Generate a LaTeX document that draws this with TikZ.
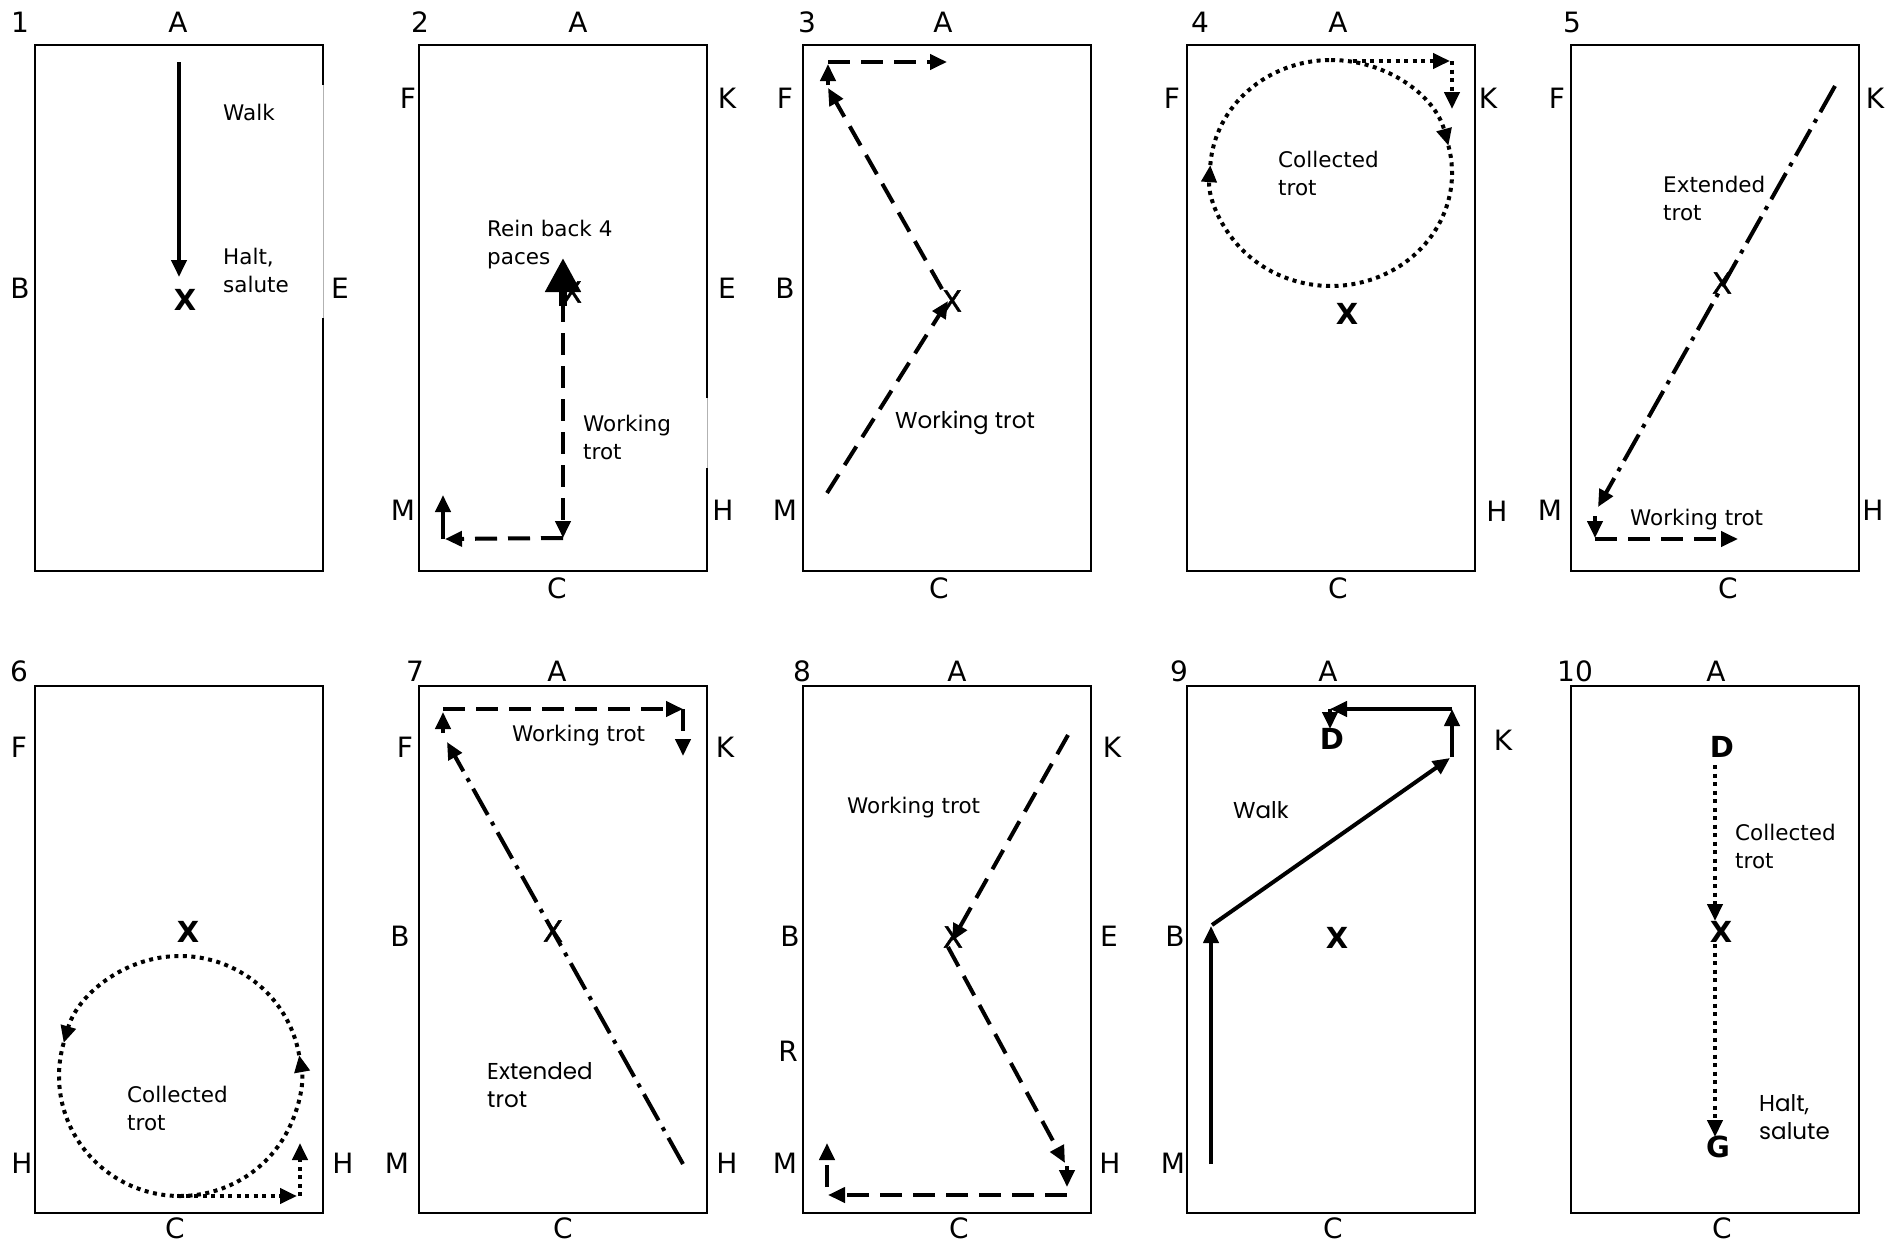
\documentclass[tikz,border=0pt]{standalone}
\usepackage{fontspec}
\setmainfont{DejaVu Sans}
\newfontfamily\geo{Poppins}
\newfontfamily\semix[FakeBold=1.5]{DejaVu Sans}
\usetikzlibrary{arrows.meta}
\begin{document}
\begin{tikzpicture}[x=1pt,y=-1pt,
  ring/.style={line width=2.5pt, line join=miter},
  faint/.style={line width=1pt, black!30},
  lbl/.style={font=\fontsize{28}{32}\selectfont, inner sep=0pt},
  bx/.style={font=\bfseries\fontsize{29}{32}\selectfont, inner sep=0pt},
  nx/.style={font=\semix\fontsize{29}{32}\selectfont, inner sep=0pt},
  txt/.style={font=\fontsize{21.5}{28}\selectfont, inner sep=0pt, align=left, anchor=west},
  gtxt/.style={font=\geo\fontsize{23}{28}\selectfont, inner sep=0pt, align=left, anchor=west},
  mv/.style={line width=4pt},
  dsh/.style={mv, dash pattern=on 22pt off 11pt},
  dtt/.style={mv, dash pattern=on 4pt off 4.5pt},
  ddot/.style={mv, dash pattern=on 30pt off 8pt on 4pt off 8pt},
  tip/.style={-{Triangle[length=17pt,width=15pt]}},
]
\useasboundingbox (0,0) rectangle (1900,1245);

% ---------------- Panel 1
\draw[ring] (323,85) -- (323,45) -- (35,45) -- (35,571) -- (323,571) -- (323,318);
\draw[faint] (323,85) -- (323,318);
\node[lbl] (p1n) at (20,22) {1};
\node[lbl] (p1A) at (178,22) {A};
\node[lbl] (p1B) at (20,288) {B};
\node[lbl] (p1E) at (340,288) {E};
\node[bx] (p1X) at (185,300) {X};
\node[txt] (p1t1) at (223,112) {Walk};
\node[txt] (p1t2) at (223,270) {Halt,\\salute};
\coordinate (p1a) at (179,62);
\coordinate (p1b) at (179,277);
\draw[mv, tip] (p1a) -- (p1b);

% ---------------- Panel 2
\draw[ring] (707,398) -- (707,45) -- (419,45) -- (419,571) -- (707,571) -- (707,468);
\draw[faint] (707,398) -- (707,468);
\node[lbl] (p2n) at (420,22) {2};
\node[lbl] (p2A) at (578,22) {A};
\node[lbl] (p2F) at (408,98) {F};
\node[lbl] (p2K) at (727,98) {K};
\node[lbl] (p2E) at (727,288) {E};
\node[lbl] (p2M) at (403,510) {M};
\node[lbl] (p2H) at (723,510) {H};
\node[lbl] (p2C) at (557,588) {C};
\node[nx] (p2X) at (572,292) {X};
\node[txt] (p2t1) at (487,245) {Rein back 4\\paces};
\node[txt] (p2t2) at (583,437) {Working\\trot};
\coordinate (p2a) at (563,300);
\coordinate (p2b) at (563,538);
\coordinate (p2c) at (445,539);
\coordinate (p2d) at (443,539);
\coordinate (p2e) at (443,495);
\coordinate (p2f) at (563,306);
\coordinate (p2g) at (563,258);
\draw[dsh, tip] (p2a) -- (p2b);
\draw[dsh, tip] (p2b) -- (p2c);
\draw[mv, tip] (p2d) -- (p2e);
\draw[line width=8pt, -{Triangle[length=34pt,width=34pt]}] (p2f) -- (p2g);

% ---------------- Panel 3
\draw[ring] (803,45) rectangle (1091,571);
\node[lbl] (p3n) at (807,22) {3};
\node[lbl] (p3A) at (943,22) {A};
\node[lbl] (p3F) at (785,98) {F};
\node[lbl] (p3B) at (785,288) {B};
\node[lbl] (p3M) at (785,510) {M};
\node[lbl] (p3C) at (939,588) {C};
\node[nx] (p3X) at (952,301) {X};
\node[gtxt] (p3t) at (895,423) {Working trot};
\coordinate (p3a) at (827,493);
\coordinate (p3b) at (948,301);
\coordinate (p3c) at (942,289);
\coordinate (p3d) at (828,88);
\coordinate (p3e) at (828,85);
\coordinate (p3f) at (828,64);
\coordinate (p3g) at (828,62);
\coordinate (p3h) at (947,62);
\draw[dsh, tip] (p3a) -- (p3b);
\draw[dsh, tip] (p3c) -- (p3d);
\draw[mv, tip] (p3e) -- (p3f);
\draw[dsh, tip] (p3g) -- (p3h);

% ---------------- Panel 4
\draw[ring] (1187,45) rectangle (1475,571);
\node[lbl] (p4n) at (1200,22) {4};
\node[lbl] (p4A) at (1338,22) {A};
\node[lbl] (p4F) at (1172,98) {F};
\node[lbl] (p4K) at (1488,98) {K};
\node[lbl] (p4H) at (1497,511) {H};
\node[lbl] (p4C) at (1338,588) {C};
\node[bx] (p4X) at (1347,314) {X};
\node[txt] (p4t) at (1278,173) {Collected\\trot};
\coordinate (c4) at (1331,173);
\draw[dtt, tip] (c4) ++(-90:121 and 113) arc[start angle=-90, end angle=-14, x radius=121, y radius=113];
\draw[dtt, tip] (c4) ++(-14:121 and 113) arc[start angle=-14, end angle=184, x radius=121, y radius=113];
\draw[dtt] (c4) ++(184:121 and 113) arc[start angle=184, end angle=270, x radius=121, y radius=113];
\coordinate (p4a) at (1353,61);
\coordinate (p4b) at (1450,61);
\coordinate (p4c) at (1452,61);
\coordinate (p4d) at (1452,109);
\draw[dtt, tip] (p4a) -- (p4b);
\draw[dtt, tip] (p4c) -- (p4d);

% ---------------- Panel 5
\draw[ring] (1571,45) rectangle (1859,571);
\node[lbl] (p5n) at (1572,22) {5};
\node[lbl] (p5F) at (1557,98) {F};
\node[lbl] (p5K) at (1875,98) {K};
\node[lbl] (p5M) at (1550,510) {M};
\node[lbl] (p5H) at (1873,510) {H};
\node[lbl] (p5C) at (1728,588) {C};
\node[nx] (p5X) at (1722,283) {X};
\node[txt] (p5t1) at (1663,198) {Extended\\trot};
\node[txt] (p5t2) at (1630,520) {Working trot};
\coordinate (p5a) at (1835,86);
\coordinate (p5b) at (1598,507);
\coordinate (p5c) at (1595,516);
\coordinate (p5d) at (1595,538);
\coordinate (p5e) at (1595,539);
\coordinate (p5f) at (1738,539);
\draw[ddot, tip] (p5a) -- (p5b);
\draw[mv, tip] (p5c) -- (p5d);
\draw[dsh, tip] (p5e) -- (p5f);

% ---------------- Panel 6
\draw[ring] (35,686) rectangle (323,1213);
\node[lbl] (p6n) at (19,671) {6};
\node[lbl] (p6F) at (19,747) {F};
\node[lbl] (p6H) at (22,1163) {H};
\node[lbl] (p6H2) at (343,1163) {H};
\node[lbl] (p6C) at (175,1228) {C};
\node[bx] (p6X) at (188,932) {X};
\node[txt] (p6t) at (127,1108) {Collected\\trot};
\coordinate (c6) at (180,1076);
\draw[dtt, tip] (c6) ++(90:121 and 120) arc[start angle=450, end angle=350, x radius=121, y radius=120];
\draw[dtt, tip] (c6) ++(350:121 and 120) arc[start angle=350, end angle=196, x radius=121, y radius=120];
\draw[dtt] (c6) ++(196:121 and 120) arc[start angle=196, end angle=90, x radius=121, y radius=120];
\coordinate (p6a) at (177,1196);
\coordinate (p6b) at (297,1196);
\coordinate (p6c) at (300,1196);
\coordinate (p6d) at (300,1143);
\draw[dtt, tip] (p6a) -- (p6b);
\draw[dtt, tip] (p6c) -- (p6d);

% ---------------- Panel 7
\draw[ring] (419,686) rectangle (707,1213);
\node[lbl] (p7n) at (415,671) {7};
\node[lbl] (p7A) at (557,671) {A};
\node[lbl] (p7F) at (405,747) {F};
\node[lbl] (p7K) at (725,747) {K};
\node[lbl] (p7B) at (400,936) {B};
\node[lbl] (p7M) at (397,1163) {M};
\node[lbl] (p7H) at (727,1163) {H};
\node[lbl] (p7C) at (563,1228) {C};
\node[nx] (p7X) at (553,931) {X};
\node[txt] (p7t1) at (512,736) {Working trot};
\node[gtxt] (p7t2) at (487,1085) {Extended\\trot};
\coordinate (p7a) at (683,1164);
\coordinate (p7b) at (447,742);
\coordinate (p7c) at (443,733);
\coordinate (p7d) at (443,712);
\coordinate (p7e) at (443,709);
\coordinate (p7f) at (683,709);
\coordinate (p7g) at (683,709);
\coordinate (p7h) at (683,756);
\draw[ddot, tip] (p7a) -- (p7b);
\draw[mv, tip] (p7c) -- (p7d);
\draw[dsh, tip] (p7e) -- (p7f);
\draw[dsh, tip] (p7g) -- (p7h);

% ---------------- Panel 8
\draw[ring] (803,686) rectangle (1091,1213);
\node[lbl] (p8n) at (802,671) {8};
\node[lbl] (p8A) at (957,671) {A};
\node[lbl] (p8K) at (1112,747) {K};
\node[lbl] (p8B) at (790,936) {B};
\node[lbl] (p8E) at (1109,936) {E};
\node[lbl] (p8R) at (788,1051) {R};
\node[lbl] (p8M) at (785,1163) {M};
\node[lbl] (p8H) at (1110,1163) {H};
\node[lbl] (p8C) at (959,1228) {C};
\node[nx] (p8X) at (953,937) {X};
\node[txt] (p8t) at (847,808) {Working trot};
\coordinate (p8a) at (1068,735);
\coordinate (p8b) at (952,941);
\coordinate (p8c) at (948,947);
\coordinate (p8d) at (1065,1163);
\coordinate (p8e) at (1067,1166);
\coordinate (p8f) at (1067,1187);
\coordinate (p8g) at (1067,1195);
\coordinate (p8h) at (828,1195);
\coordinate (p8i) at (827,1187);
\coordinate (p8j) at (827,1143);
\draw[dsh, tip] (p8a) -- (p8b);
\draw[dsh, tip] (p8c) -- (p8d);
\draw[mv, tip] (p8e) -- (p8f);
\draw[dsh, tip] (p8g) -- (p8h);
\draw[dsh, tip] (p8i) -- (p8j);

% ---------------- Panel 9
\draw[ring] (1187,686) rectangle (1475,1213);
\node[lbl] (p9n) at (1179,671) {9};
\node[lbl] (p9A) at (1328,671) {A};
\node[lbl] (p9K) at (1503,740) {K};
\node[lbl] (p9B) at (1175,936) {B};
\node[lbl] (p9M) at (1173,1163) {M};
\node[lbl] (p9C) at (1333,1228) {C};
\node[bx] (p9D) at (1332,739) {D};
\node[bx] (p9X) at (1337,938) {X};
\node[gtxt] (p9t) at (1233,810) {Walk};
\coordinate (p9a) at (1211,1164);
\coordinate (p9b) at (1211,926);
\coordinate (p9c) at (1212,925);
\coordinate (p9d) at (1450,758);
\coordinate (p9e) at (1452,757);
\coordinate (p9f) at (1452,709);
\coordinate (p9g) at (1452,709);
\coordinate (p9h) at (1330,709);
\coordinate (p9i) at (1330,709);
\coordinate (p9j) at (1330,729);
\draw[mv, tip] (p9a) -- (p9b);
\draw[mv, tip] (p9c) -- (p9d);
\draw[mv, tip] (p9e) -- (p9f);
\draw[mv, tip] (p9g) -- (p9h);
\draw[mv, tip] (p9i) -- (p9j);

% ---------------- Panel 10
\draw[ring] (1859,1080) -- (1859,686) -- (1571,686) -- (1571,1213) -- (1859,1213) -- (1859,1172);
\draw[line width=1.2pt] (1859,1080) -- (1859,1172);
\node[lbl] (p10n) at (1575,671) {10};
\node[lbl] (p10A) at (1716,671) {A};
\node[lbl] (p10C) at (1722,1228) {C};
\node[bx] (p10D) at (1722,747) {D};
\node[bx] (p10X) at (1721,932) {X};
\node[bx] (p10G) at (1718,1147) {G};
\node[txt] (p10t1) at (1735,846) {Collected\\trot};
\node[gtxt] (p10t2) at (1759,1117) {Halt,\\salute};
\coordinate (p10a) at (1715,765);
\coordinate (p10b) at (1715,921);
\coordinate (p10c) at (1715,944);
\coordinate (p10d) at (1715,1137);
\draw[dtt, tip] (p10a) -- (p10b);
\draw[dtt, tip] (p10c) -- (p10d);
\end{tikzpicture}
\end{document}
